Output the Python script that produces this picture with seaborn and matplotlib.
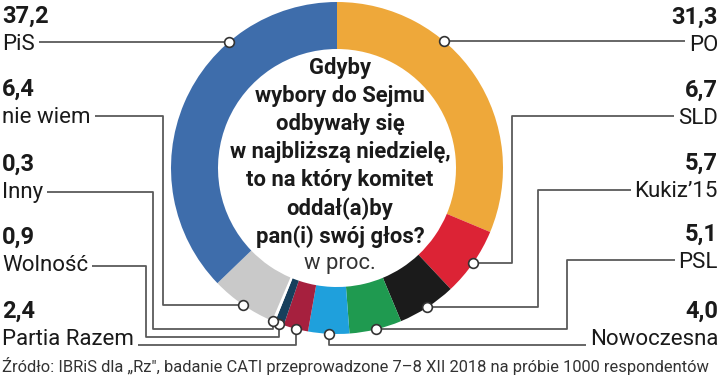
import numpy as np
import matplotlib
matplotlib.use('Agg')
import matplotlib.pyplot as plt
import seaborn as sns

# poll data, clockwise from 12 o'clock
parties = ['PO', 'SLD', 'Kukiz’15', 'PSL', 'Nowoczesna',
           'Partia Razem', 'Wolność', 'Inny', 'nie wiem', 'PiS']
values = [31.3, 6.7, 5.7, 5.1, 4.0, 2.4, 0.9, 0.3, 6.4, 37.2]
colors = ['#eea83a', '#dc2335', '#1b1b1b', '#1f9a50', '#1fa0dc',
          '#a6203e', '#173f5c', '#ffffff', '#c9c9c9', '#3e6dab']

question = ['Gdyby', 'wybory do Sejmu', 'odbywały się', 'w najbliższą niedzielę,',
            'to na który komitet', 'oddał(a)by', 'pan(i) swój głos?']
unit = 'w proc.'
source = 'Źródło: IBRiS dla „Rz", badanie CATI przeprowadzone 7–8 XII 2018 na próbie 1000 respondentów'

sns.set_theme(style='white')
plt.rcParams['font.family'] = ['Roboto', 'DejaVu Sans']

W, H = 720, 377
fig = plt.figure(figsize=(W / 100, H / 100), dpi=100)
ax = fig.add_axes([0, 0, 1, 1])

# ring geometry in pixels (y measured from top, flipped below)
cx, cy_top, R, ring = 337, 168, 166, 47
cy = H - cy_top
wedges, _ = ax.pie(values, colors=colors, startangle=90, counterclock=False,
                   center=(cx, cy), radius=R,
                   wedgeprops=dict(width=ring, linewidth=0))
ax.set_xlim(0, W)
ax.set_ylim(0, H)
ax.set_aspect('equal')
ax.axis('off')

# label layout: side, line y, name baseline, elbow x, run y (pixels from top)
layout = {
    'PiS':          ('L', 42, 50, None, None),
    'nie wiem':     ('L', 116, 123, 163, None),
    'Inny':         ('L', 192, 198, 153, 329),
    'Wolność':      ('L', 266, 271, 146, 337),
    'Partia Razem': ('L', 345, 345, None, 345),
    'PO':           ('R', 41, 51, None, None),
    'SLD':          ('R', 116, 124, 512, None),
    'Kukiz’15':     ('R', 190, 197, 538, None),
    'PSL':          ('R', 260, 268, 567, None),
    'Nowoczesna':   ('R', 345, 345, None, 345),
}

def fy(y):
    return H - y

line_kw = dict(color='#5a5a5a', lw=1.3, zorder=3, solid_capstyle='butt')
renderer = fig.canvas.get_renderer()
inv = ax.transData.inverted()

for name, val, w in zip(parties, values, wedges):
    side, ly, base, ex, ry = layout[name]
    ha = 'left' if side == 'L' else 'right'
    tx = 2 if side == 'L' else W - 2
    ax.text(tx, fy(base - 27), f'{val:.1f}'.replace('.', ','), ha=ha, va='baseline',
            fontsize=17, fontweight='bold', color='#1a1a1a')
    t = ax.text(tx, fy(base), name, ha=ha, va='baseline', fontsize=16, color='#1a1a1a')
    bb = t.get_window_extent(renderer)
    x0 = inv.transform((bb.x1 + 4, 0))[0] if side == 'L' else inv.transform((bb.x0 - 4, 0))[0]

    # marker on the outer edge
    if ex is None and ry is None:
        dy = fy(ly) - cy
        dx = np.sqrt(R ** 2 - dy ** 2)
        mx, my = (cx - dx if side == 'L' else cx + dx), fy(ly)
    else:
        th = np.deg2rad((w.theta1 + w.theta2) / 2)
        mx, my = cx + R * np.cos(th), cy + R * np.sin(th)

    if ry is None and ex is None:
        xs, ys = [x0, mx], [fy(ly), my]
    elif ry is None:
        xs, ys = [x0, ex, ex, mx], [fy(ly), fy(ly), my, my]
    elif ex is None:
        xs, ys = [x0, mx, mx], [fy(ry), fy(ry), my]
    else:
        xs, ys = [x0, ex, ex, mx, mx], [fy(ly), fy(ly), fy(ry), fy(ry), my]
    ax.plot(xs, ys, **line_kw)
    ax.plot([mx], [my], 'o', ms=7, mfc='white', mec='#333333', mew=1.2, zorder=4)

# question in the middle of the ring
qx = 340
for i, line in enumerate(question):
    ax.text(qx, fy(68 + 28.1 * i), line, ha='center', va='center',
            fontsize=15.8, fontweight='bold', color='#1a1a1a')
ax.text(qx, fy(264), unit, ha='center', va='center', fontsize=15.8, color='#333333')

ax.text(2, fy(372), source, ha='left', va='baseline', fontsize=11.9, color='#333333')

fig.savefig('out.png', dpi=100)
